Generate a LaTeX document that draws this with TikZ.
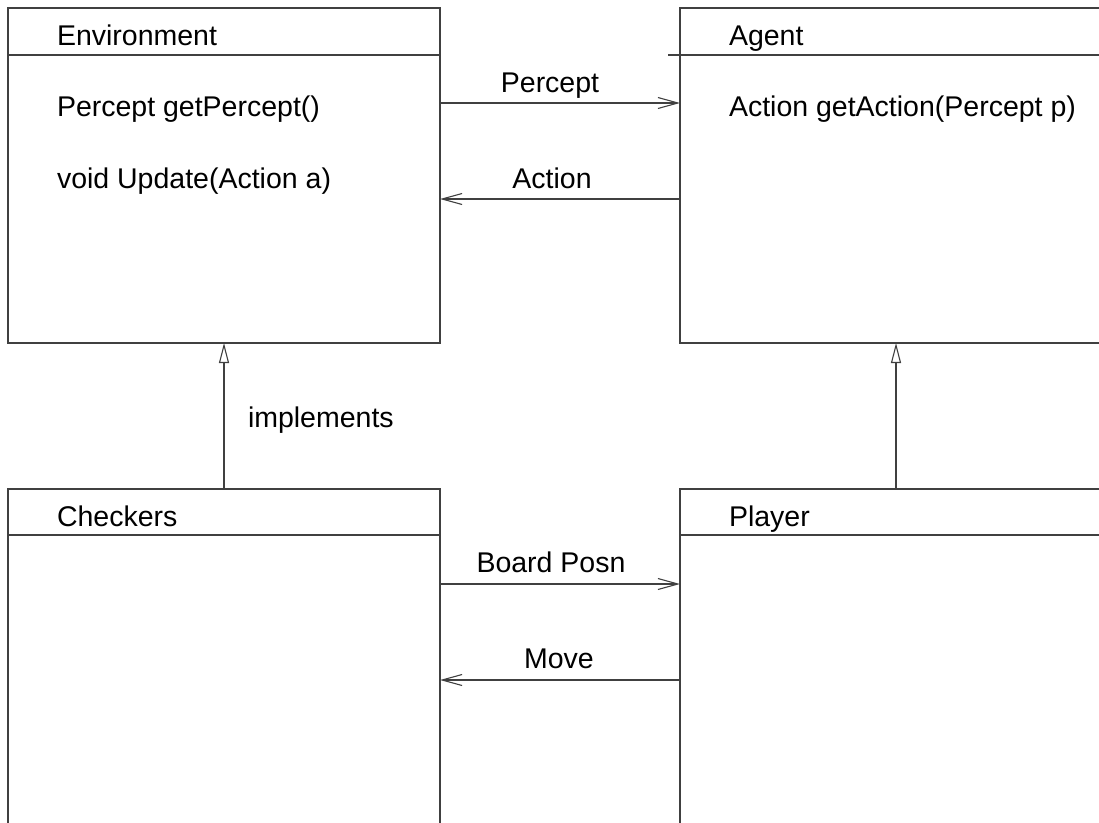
\documentclass[tikz,border=0pt]{standalone}
\usepackage{fontspec}
\setmainfont{Liberation Sans}
\usetikzlibrary{arrows.meta}
\begin{document}
\begin{tikzpicture}[x=1pt,y=-1pt,
  line width=1.1pt,
  every node/.style={font=\fontsize{28.5}{34}\selectfont, inner sep=0pt, outer sep=0pt},
  umlbox/.style={draw=black!75, rectangle, minimum width=432pt, minimum height=335pt},
  hdr/.style={draw=black!75},
  txt/.style={anchor=base west},
  lbl/.style={anchor=base},
  assoc/.style={draw=black!75, -{Straight Barb[length=20pt,width=11pt,line width=1.1pt]}},
  realize/.style={draw=black!75, -{Triangle[open,length=20pt,width=10pt,line width=1.1pt]}}
]
\clip (0,0) rectangle (1099,822);
\fill[white] (0,0) rectangle (1099,822);

% class boxes
\node[umlbox] (env) at (224,175.5) {};
\node[umlbox] (agent) at (896,175.5) {};
\node[umlbox] (check) at (224,656.5) {};
\node[umlbox] (player) at (896,656.5) {};

% header separators
\draw[hdr] (env.west |- 0,55) -- (env.east |- 0,55);
\draw[hdr] (668,55) -- (agent.east |- 0,55);
\draw[hdr] (check.west |- 0,535) -- (check.east |- 0,535);
\draw[hdr] (player.west |- 0,535) -- (player.east |- 0,535);

% class texts
\node[txt] (envn) at (57,45) {Environment};
\node[txt] (envm1) at (57,116) {Percept getPercept()};
\node[txt] (envm2) at (57,188) {void Update(Action a)};
\node[txt] (agentn) at (729,45) {Agent};
\node[txt] (agentm1) at (729,116) {Action getAction(Percept p)};
\node[txt] (checkn) at (57,526) {Checkers};
\node[txt] (playern) at (729,526) {Player};

% associations
\draw[assoc] (env.east |- 0,103) -- (agent.west |- 0,103);
\node[lbl] (lpercept) at (550,92) {Percept};
\draw[assoc] (agent.west |- 0,199) -- (env.east |- 0,199);
\node[lbl] (laction) at (552,188) {Action};
\draw[assoc] (check.east |- 0,584) -- (player.west |- 0,584);
\node[lbl] (lboard) at (551,572) {Board Posn};
\draw[assoc] (player.west |- 0,680) -- (check.east |- 0,680);
\node[lbl] (lmove) at (559,668) {Move};

% realizations
\draw[realize] (check.north) -- (env.south);
\node[txt] (limpl) at (248,427) {implements};
\draw[realize] (player.north) -- (agent.south);
\end{tikzpicture}
\end{document}
